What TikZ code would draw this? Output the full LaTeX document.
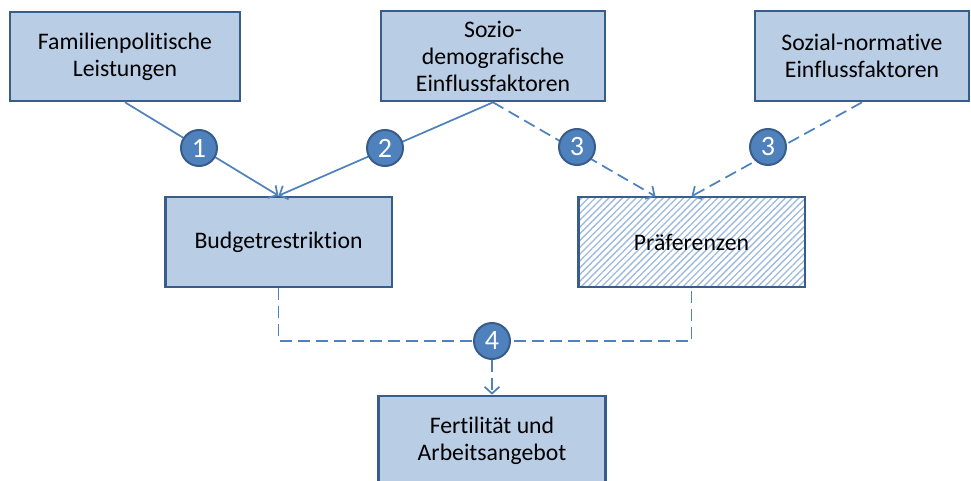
\documentclass[tikz,border=0pt]{standalone}
\usepackage{fontspec}
\setmainfont{Carlito}[Ligatures={NoCommon,NoContextual},RawFeature={-liga;-clig;-calt;-dlig}]
\usetikzlibrary{arrows.meta,patterns.meta}
\definecolor{boxfill}{HTML}{B9CDE5}
\definecolor{boxline}{HTML}{385D8A}
\definecolor{linkblue}{HTML}{4F81BD}
\definecolor{hatch}{HTML}{9DB9DC}

\begin{document}
\begin{tikzpicture}[
  x=0.75pt, y=-0.75pt,
  >={Straight Barb[length=5pt,width=11pt]},
  plain/.style={draw=boxline, line width=2pt, minimum width=170pt,
    minimum height=67.5pt, inner sep=0pt, align=center,
    font=\fontsize{17.8}{20.3}\selectfont},
  box/.style={plain, fill=boxfill},
  hatched/.style={plain, pattern={Lines[angle=45,distance=3.6pt,line width=1pt]},
    pattern color=hatch},
  num/.style={circle, draw=boxline, line width=1.5pt, fill=linkblue,
    text=white, minimum size=27pt, inner sep=0pt,
    font=\fontsize{21}{21}\selectfont},
  link/.style={draw=linkblue, line width=1.3pt, ->},
  dashlink/.style={link, dash pattern=on 9pt off 4.5pt}
]
  \path[use as bounding box, clip] (0,0) rectangle (971,481);

  % Factors on top, the two constraints, the outcome below.
  \node[box, minimum width=172.5pt, minimum height=66.75pt] (fam) at (125,56.5)
    {Familienpolitische\\Leistungen};
  \node[box, minimum width=168pt] (sozio) at (493,56)
    {Sozio-\\demografische\\Einflussfaktoren};
  \node[box, minimum width=160.5pt] (norm) at (862,56)
    {Sozial-normative\\Einflussfaktoren};
  \node[box] (budget) at (278.5,242) {Budgetrestriktion};
  \node[hatched] (pref) at (691.5,242) {Präferenzen};
  \node[box] (fert) at (492,441) {Fertilität und\\Arbeitsangebot};

  \draw[link] (fam.south) -- (budget.north);
  \draw[link] (sozio.south) -- (budget.north);
  \draw[dashlink] (sozio.south) -- ([xshift=-27pt]pref.north);
  \draw[dashlink] (norm.south) -- (pref.north);

  \coordinate (join) at (492,341);
  \draw[dashlink, -] (budget.south) |- (join) -| (pref.south);

  \node[num] (n1) at (199,148) {1};
  \node[num] (n2) at (385,148) {2};
  \node[num] (n3a) at (577,147) {3};
  \node[num] (n3b) at (768,147) {3};
  \node[num] (n4) at (join) {4};

  \draw[dashlink] (n4) -- (fert.north);
\end{tikzpicture}
\end{document}
